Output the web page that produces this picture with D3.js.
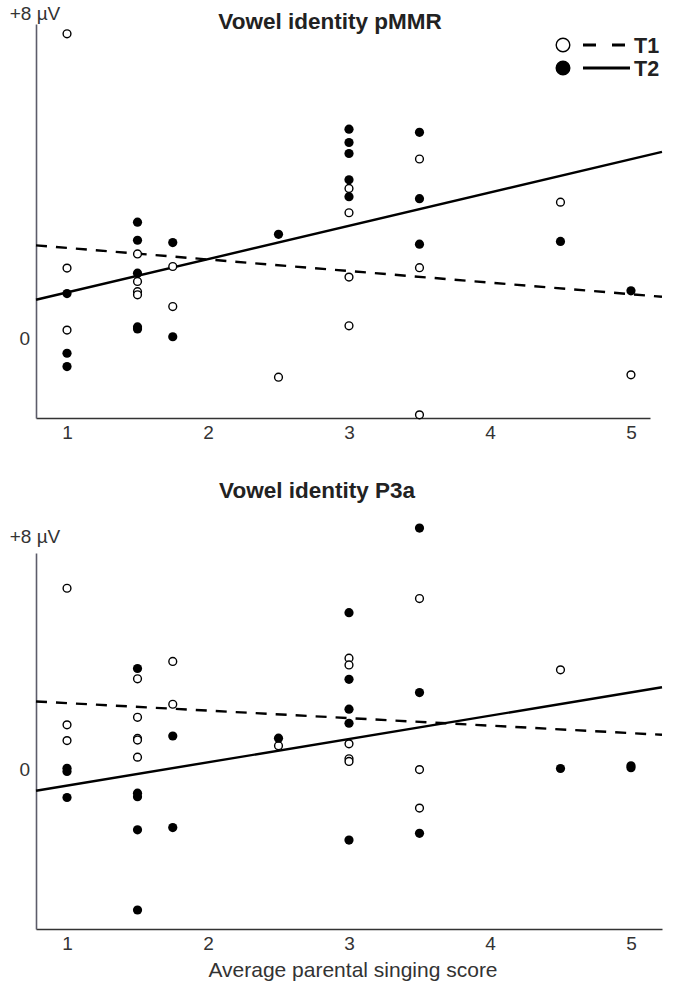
<!DOCTYPE html>
<html>
<head>
<meta charset="utf-8">
<script src="https://cdnjs.cloudflare.com/ajax/libs/d3/7.8.5/d3.min.js"></script>
<style>
  body { margin: 0; background: #fff; }
  text { font-family: Arial, "Liberation Sans", sans-serif; }
</style>
</head>
<body>
<div id="chart"></div>
<script>
// values: [parental singing score, amplitude in µV]
var xTicks = [1, 2, 3, 4, 5];
var lineExtent = [0.78, 5.22];

var mmrT1 = [[1, 7.75], [1, 1.78], [1, 0.20], [1.5, 2.14], [1.5, 1.44], [1.5, 1.18], [1.5, 1.10],
  [1.75, 1.82], [1.75, 0.80], [2.5, -1.00], [3, 3.81], [3, 3.19], [3, 1.55], [3, 0.31],
  [3.5, 4.56], [3.5, 1.79], [3.5, -1.96], [4.5, 3.46], [5, -0.94]];
var mmrT2 = [[1, 1.13], [1, -0.39], [1, -0.73], [1.5, 2.95], [1.5, 2.49], [1.5, 1.65], [1.5, 0.28],
  [1.5, 0.23], [1.75, 2.43], [1.75, 0.03], [2.5, 2.64], [3, 5.32], [3, 4.98], [3, 4.70],
  [3, 4.03], [3, 3.60], [3.5, 5.24], [3.5, 3.55], [3.5, 2.39], [4.5, 2.46], [5, 1.20]];

var p3aT1 = [[1, 6.70], [1, 1.66], [1, 1.08], [1.5, 3.36], [1.5, 1.94], [1.5, 1.16], [1.5, 1.10],
  [1.5, 0.47], [1.75, 4.00], [1.75, 2.42], [2.5, 0.89], [3, 4.12], [3, 3.87], [3, 0.96],
  [3, 0.41], [3, 0.31], [3.5, 6.32], [3.5, 0.01], [3.5, -1.41], [4.5, 3.69]];
var p3aT2 = [[1, 0.06], [1, -0.06], [1, -1.02], [1.5, 3.74], [1.5, -0.86], [1.5, -0.99], [1.5, -2.21],
  [1.5, -5.17], [1.75, 1.25], [1.75, -2.13], [2.5, 1.17], [3, 5.80], [3, 3.34], [3, 2.24],
  [3, 1.72], [3, -2.59], [3.5, 8.92], [3.5, 2.85], [3.5, -2.34], [4.5, 0.05], [5, 0.15], [5, 0.08]];

// regression lines: [intercept, slope]
var mmrFitT1 = [2.59, -0.295];
var mmrFitT2 = [0.31, 0.849];
var p3aFitT1 = [2.74, -0.277];
var p3aFitT2 = [-1.44, 0.86];

var titles = ["Vowel identity pMMR", "Vowel identity P3a"];
var xTitle = "Average parental singing score";

var svg = d3.select("#chart").append("svg")
  .attr("width", 675)
  .attr("height", 992);

var panels = [
  { title: titles[0], t1: mmrT1, t2: mmrT2, fit1: mmrFitT1, fit2: mmrFitT2,
    xDom: [0.78, 5.135], xRange: [36, 650], yDom: [-2.04, 8], yRange: [418, 24],
    titleX: 330, titleY: 29, topLabelY: 20 },
  { title: titles[1], t1: p3aT1, t2: p3aT2, fit1: p3aFitT1, fit2: p3aFitT2,
    xDom: [0.78, 5.22], xRange: [36, 662], yDom: [-5.87, 8], yRange: [929, 553],
    titleX: 317, titleY: 498, topLabelY: 543 }
];

panels.forEach(function(p, i) {
  var x = d3.scaleLinear().domain(p.xDom).range(p.xRange);
  var y = d3.scaleLinear().domain(p.yDom).range(p.yRange);
  var g = svg.append("g");

  g.append("text")
    .attr("x", p.titleX)
    .attr("y", p.titleY)
    .attr("text-anchor", "middle")
    .style("font-size", "22.5px")
    .style("font-weight", "bold")
    .style("fill", "#222")
    .text(p.title);

  // x axis
  var xAxis = g.append("g")
    .attr("transform", `translate(0, ${p.yRange[0]})`)
    .call(d3.axisBottom(x).tickValues(xTicks).tickSize(0).tickPadding(8).tickFormat(d3.format("d")));
  xAxis.select(".domain").attr("stroke", "#333").attr("stroke-width", 1.6);
  xAxis.selectAll("text").style("font-size", "19px").style("fill", "#333")
    .style("font-family", "Arial, 'Liberation Sans', sans-serif");

  // y axis
  var yAxis = g.append("g")
    .attr("transform", `translate(${p.xRange[0]}, 0)`)
    .call(d3.axisLeft(y).tickValues([0]).tickSize(0).tickPadding(6).tickFormat(d3.format("d")));
  yAxis.select(".domain").attr("stroke", "#5c5c6a").attr("stroke-width", 1.6);
  yAxis.selectAll("text").style("font-size", "19px").style("fill", "#333")
    .style("font-family", "Arial, 'Liberation Sans', sans-serif");

  g.append("text")
    .attr("x", p.xRange[0] - 1)
    .attr("y", p.topLabelY)
    .attr("text-anchor", "middle")
    .style("font-size", "19px")
    .style("fill", "#333")
    .text("+8 µV");

  // regression lines
  var fits = [[p.fit1, "11,9"], [p.fit2, null]];
  fits.forEach(function(f) {
    g.append("line")
      .attr("x1", x(lineExtent[0]))
      .attr("y1", y(f[0][0] + f[0][1] * lineExtent[0]))
      .attr("x2", x(lineExtent[1]))
      .attr("y2", y(f[0][0] + f[0][1] * lineExtent[1]))
      .attr("stroke", "#000")
      .attr("stroke-width", 2.4)
      .attr("stroke-dasharray", f[1]);
  });

  // points
  g.selectAll("circle.t1")
    .data(p.t1)
    .enter()
    .append("circle")
    .attr("class", "t1")
    .attr("cx", d => x(d[0]))
    .attr("cy", d => y(d[1]))
    .attr("r", 3.9)
    .attr("fill", "#fff")
    .attr("stroke", "#000")
    .attr("stroke-width", 1.4);

  g.selectAll("circle.t2")
    .data(p.t2)
    .enter()
    .append("circle")
    .attr("class", "t2")
    .attr("cx", d => x(d[0]))
    .attr("cy", d => y(d[1]))
    .attr("r", 4.6)
    .attr("fill", "#000");
});

// x axis title
svg.append("text")
  .attr("x", 353)
  .attr("y", 977)
  .attr("text-anchor", "middle")
  .style("font-size", "21px")
  .style("fill", "#333")
  .text(xTitle);

// legend
var legend = svg.append("g");
var legendItems = [["T1", false, "13,16"], ["T2", true, null]];
legendItems.forEach(function(d, i) {
  var ly = 45 + i * 23;
  legend.append("circle")
    .attr("cx", 563).attr("cy", ly).attr("r", 6.8)
    .attr("fill", d[1] ? "#000" : "#fff")
    .attr("stroke", "#000").attr("stroke-width", 1.4);
  legend.append("line")
    .attr("x1", 583).attr("x2", d[1] ? 630 : 626)
    .attr("y1", ly).attr("y2", ly)
    .attr("stroke", "#000").attr("stroke-width", 2.8)
    .attr("stroke-dasharray", d[2]);
  legend.append("text")
    .attr("x", 634).attr("y", ly + 7.5)
    .style("font-size", "21.5px")
    .style("font-weight", "bold")
    .style("fill", "#222")
    .text(d[0]);
});
</script>
</body>
</html>
